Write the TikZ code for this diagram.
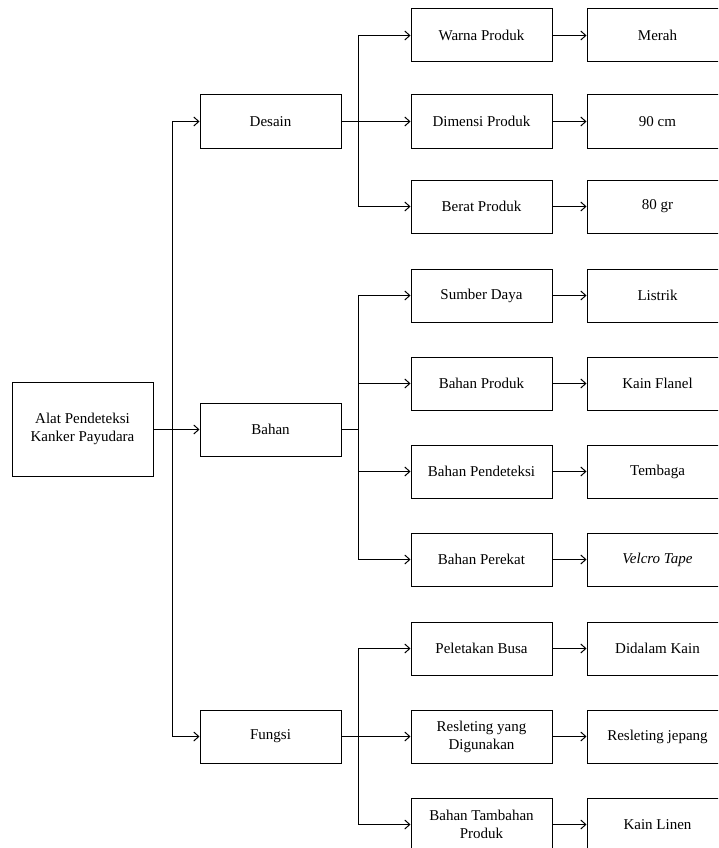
\documentclass[tikz,border=0pt]{standalone}
\usepackage{fontspec}
\setmainfont{Liberation Serif}
\usetikzlibrary{arrows.meta}
\tikzset{
  kotak/.style={draw, line width=1pt, minimum width=141pt, minimum height=53pt,
    inner sep=0pt, align=center, font=\fontsize{15}{18}\selectfont},
  panah/.style={-{Straight Barb[length=5pt,width=9pt]}, line width=1pt}
}
\begin{document}
\begin{tikzpicture}[x=1pt,y=-1pt]
        \useasboundingbox (0,0) rectangle (718,848);
        \clip (0,0) rectangle (718,848);
        % Akar
        \node[kotak, minimum height=94pt] (alat) at (82.5,429) {Alat Pendeteksi\\Kanker Payudara};
        % Tingkat 1
        \node[kotak] (desain) at (270.5,121.5) {Desain};
        \node[kotak] (bahan) at (270.5,429.5) {Bahan};
        \node[kotak] (fungsi) at (270.5,736.5) {Fungsi};
        % Tingkat 2
        \node[kotak] (warna) at (481.5,35.5) {Warna Produk};
        \node[kotak] (dimensi) at (481.5,121.5) {Dimensi Produk};
        \node[kotak] (berat) at (481.5,206.5) {Berat Produk};
        \node[kotak] (sumber) at (481.5,295.5) {Sumber Daya};
        \node[kotak] (bproduk) at (481.5,383.5) {Bahan Produk};
        \node[kotak] (bdeteksi) at (481.5,471.5) {Bahan Pendeteksi};
        \node[kotak] (perekat) at (481.5,559.5) {Bahan Perekat};
        \node[kotak] (busa) at (481.5,648.5) {Peletakan Busa};
        \node[kotak] (resleting) at (481.5,736.5) {Resleting yang\\Digunakan};
        \node[kotak] (tambahan) at (481.5,824.5) {Bahan Tambahan\\Produk};
        % Tingkat 3
        \node[kotak] (merah) at (657.5,35.5) {Merah};
        \node[kotak] (ukuran) at (657.5,121.5) {90 cm};
        \node[kotak] (massa) at (657.5,206.5) {80 gr};
        \node[kotak] (listrik) at (657.5,295.5) {Listrik};
        \node[kotak] (flanel) at (657.5,383.5) {Kain Flanel};
        \node[kotak] (tembaga) at (657.5,471.5) {Tembaga};
        \node[kotak] (velcro) at (657.5,559.5) {\textit{Velcro Tape}};
        \node[kotak] (didalam) at (657.5,648.5) {Didalam Kain};
        \node[kotak] (jepang) at (657.5,736.5) {Resleting jepang};
        \node[kotak] (linen) at (657.5,824.5) {Kain Linen};
        % Cabang
        \foreach \n in {desain,bahan,fungsi}
        \draw[panah] (alat.east) -- ++(19,0) |- (\n.west);
        \foreach \a/\b in {desain/warna,desain/dimensi,desain/berat,
          bahan/sumber,bahan/bproduk,bahan/bdeteksi,bahan/perekat,
          fungsi/busa,fungsi/resleting,fungsi/tambahan}
        \draw[panah] (\a.east) -- ++(17,0) |- (\b.west);
        % Isi
        \foreach \a/\b in {warna/merah,dimensi/ukuran,berat/massa,sumber/listrik,
          bproduk/flanel,bdeteksi/tembaga,perekat/velcro,busa/didalam,
          resleting/jepang,tambahan/linen}
        \draw[panah] (\a) -- (\b);
\end{tikzpicture}
\end{document}
